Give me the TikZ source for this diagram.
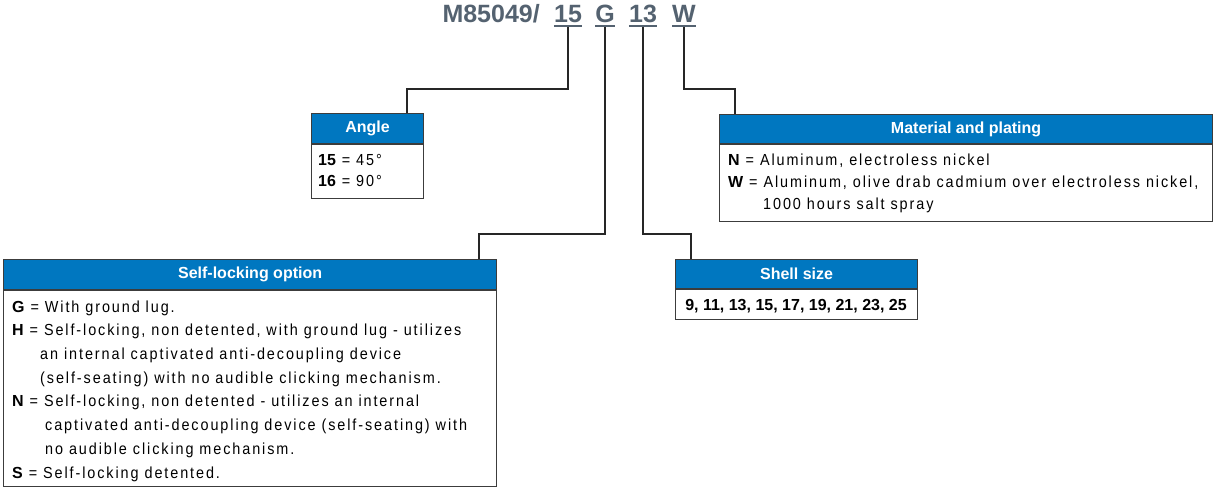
\documentclass[tikz,border=0pt]{standalone}
\usepackage{fontspec}
\setmainfont{Liberation Sans}
\newfontfamily\bodyfont[FakeStretch=0.9,LetterSpace=12]{Liberation Sans}
\usepackage{tikz}
\usetikzlibrary{positioning}
\definecolor{hdrblue}{RGB}{0,119,192}
\definecolor{codegray}{RGB}{84,98,112}
\definecolor{framegray}{RGB}{60,60,60}
\newcommand\optkey[1]{{\normalfont\bfseries #1}}
\tikzset{
  hdr/.style={rectangle, draw=framegray, fill=hdrblue, line width=1.2pt, minimum height=30pt, inner sep=0pt, text=white, font=\fontsize{16}{19}\selectfont\bfseries, anchor=north west},
  frame/.style={rectangle, draw=framegray, line width=1.2pt, inner sep=0pt, anchor=north west},
  legend/.style={anchor=base west, inner sep=0pt, align=left, font=\bodyfont\fontsize{16}{#1}\selectfont},
  code/.style={anchor=base, inner sep=0pt, text=codegray, font=\fontsize{25}{30}\selectfont\bfseries},
  uline/.style={draw=codegray, line width=2pt},
  link/.style={draw=black!85, line width=1.2pt},
}

\begin{document}
\begin{tikzpicture}[x=1pt, y=-1pt]
  \useasboundingbox (0,0) rectangle (1213,487);
  % part number and its fields
  \node[code, anchor=base east] (part) at (540,23) {M85049/};
  \node[code] (c15) at (568,23) {15};
  \node[code] (cG) at (605,23) {G};
  \node[code] (c13) at (643,23) {13};
  \node[code] (cW) at (684,23) {W};
  \foreach \c in {c15,cG,c13,cW}
    \draw[uline] ([yshift=-3pt]\c.base west) -- ([yshift=-3pt]\c.base east);
  % legend boxes (text nodes sit on the baseline of their last line)
  \node[hdr, minimum width=112pt] (angle) at (311,113) {Angle};
  \node[frame, minimum width=112pt, minimum height=54pt] (angleBox) at (angle.south west) {};
  \node[legend=21pt] (angleTxt) at (318,186) {\optkey{15} = 45°\\\optkey{16} = 90°};
  \node[hdr, minimum width=493pt, minimum height=29pt] (material) at (719,114) {Material and plating};
  \node[frame, minimum width=493pt, minimum height=77pt] (materialBox) at (material.south west) {};
  \node[legend=22pt] (materialTxt) at (728,209) {\optkey{N} = Aluminum, electroless nickel\\
    \optkey{W} = Aluminum, olive drab cadmium over electroless nickel,\\
    \hspace*{35pt}1000 hours salt spray};
  \node[hdr, minimum width=493pt] (selflock) at (3,259) {Self-locking option};
  \node[frame, minimum width=493pt, minimum height=196pt] (selflockBox) at (selflock.south west) {};
  \node[legend=23.7pt] (selflockTxt) at (12,478) {\optkey{G} = With ground lug.\\
    \optkey{H} = Self-locking, non detented, with ground lug - utilizes\\
    \hspace*{28pt}an internal captivated anti-decoupling device\\
    \hspace*{28pt}(self-seating) with no audible clicking mechanism.\\
    \optkey{N} = Self-locking, non detented - utilizes an internal\\
    \hspace*{33pt}captivated anti-decoupling device (self-seating) with\\
    \hspace*{33pt}no audible clicking mechanism.\\
    \optkey{S} = Self-locking detented.};
  \node[hdr, minimum width=242pt, minimum height=29pt] (shell) at (675,259) {Shell size};
  \node[frame, minimum width=242pt, minimum height=30pt] (shellBox) at (shell.south west) {};
  \node[anchor=base, inner sep=0pt, font=\fontsize{16}{19}\selectfont\bfseries] (shellTxt) at (796,310) {9, 11, 13, 15, 17, 19, 21, 23, 25};
  % leader lines
  \coordinate (angleTap) at (407,89);
  \coordinate (selflockTap) at (479,234);
  \coordinate (shellTap) at (691,234);
  \coordinate (materialTap) at (735,89);
  \draw[link] ([yshift=-4pt]c15.base) |- (angleTap) -- (angleTap |- angle.north);
  \draw[link] ([yshift=-4pt]cG.base) |- (selflockTap) -- (selflockTap |- selflock.north);
  \draw[link] ([yshift=-4pt]c13.base) |- (shellTap) -- (shellTap |- shell.north);
  \draw[link] ([yshift=-4pt]cW.base) |- (materialTap) -- (materialTap |- material.north);
\end{tikzpicture}
\end{document}
